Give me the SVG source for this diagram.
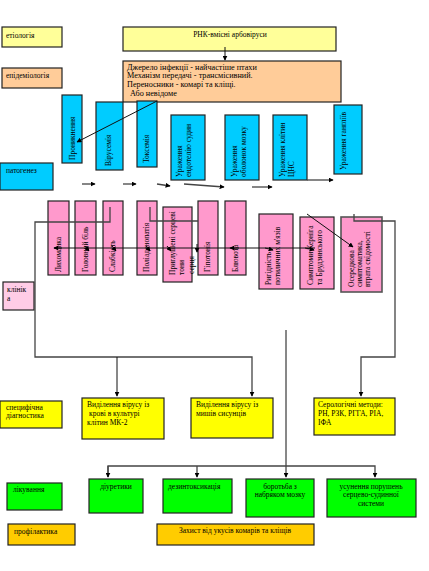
<svg xmlns="http://www.w3.org/2000/svg" width="429" height="571" viewBox="0 0 429 571">
<style>
text{font-family:"Liberation Serif","Times New Roman",serif;font-size:7.5px;fill:#000}
.pt{font-size:8.2px}
.b{stroke:#222;stroke-width:1.2}
.y1{fill:#FFFF99}.pe{fill:#FFCC99}.cy{fill:#00CCFF}.pk{fill:#FF99CC}.lp{fill:#FFCCE6}.ye{fill:#FFFF00}.gr{fill:#00FF00}.or{fill:#FFCC00}
.c{fill:none;stroke:#111;stroke-width:1}
.g{fill:none;stroke:#444;stroke-width:1.3}
.m{text-anchor:middle}
</style>
<defs>
<marker id="a" viewBox="0 0 8 8" refX="7" refY="4" markerWidth="5" markerHeight="5" orient="auto" markerUnits="userSpaceOnUse"><path d="M0,0 L8,4 L0,8 z" fill="#000"/></marker>
</defs>
<rect width="429" height="571" fill="#fff"/>

<g id="etiology"><rect class="b y1" x="2" y="27" width="60" height="20"/><text x="6" y="38">етіологія</text></g>
<g id="epidemiology"><rect class="b pe" x="2" y="68" width="60" height="20"/><text x="6" y="78">епідеміологія</text></g>
<g id="pathogenesis"><rect class="b cy" x="0" y="163" width="53" height="27"/><text x="6" y="173">патогенез</text></g>
<g id="clinic"><rect class="b lp" x="3" y="282" width="31" height="28"/><text x="7" y="292">клінік</text><text x="7" y="301">а</text></g>
<g id="specdiag"><rect class="b ye" x="0" y="401" width="62" height="27"/><text x="6" y="410">специфічна</text><text x="6" y="418">діагностика</text></g>
<g id="treatment"><rect class="b gr" x="7" y="483" width="55" height="27"/><text x="13" y="492">лікування</text></g>
<g id="prophylaxis"><rect class="b or" x="8" y="524" width="67" height="21"/><text x="14" y="534">профілактика</text></g>

<g id="virus"><rect class="b y1" x="123" y="27" width="213" height="24"/><text class="m" x="230" y="37">РНК-вмісні арбовіруси</text></g>
<g id="epidtext"><rect class="b pe" x="123" y="61" width="218" height="41"/>
<text class="pt" x="127" y="70">Джерело інфекції - найчастіше птахи</text>
<text class="pt" x="127" y="78">Механізм передачі - трансмісивний.</text>
<text class="pt" x="127" y="87">Переносники - комарі та кліщі.</text>
<text class="pt" x="130" y="96">Або невідоме</text></g>

<g id="p1"><rect class="b cy" x="62" y="95" width="20" height="68"/><text transform="translate(75,160) rotate(-90)">Проникнення</text></g>
<g id="p2"><rect class="b cy" x="96" y="102" width="27" height="68"/><text transform="translate(111,166) rotate(-90)">Вірусемія</text></g>
<g id="p3"><rect class="b cy" x="137" y="101" width="20" height="66"/><text transform="translate(149,163) rotate(-90)">Токсемія</text></g>
<g id="p4"><rect class="b cy" x="171" y="115" width="34" height="65"/><text transform="translate(182,177) rotate(-90)">Ураження</text><text transform="translate(191,177) rotate(-90)">ендотелію судин</text></g>
<g id="p5"><rect class="b cy" x="225" y="115" width="34" height="65"/><text transform="translate(237,177) rotate(-90)">Ураження</text><text transform="translate(246,177) rotate(-90)">оболонок мозку</text></g>
<g id="p6"><rect class="b cy" x="273" y="115" width="34" height="65"/><text transform="translate(285,177) rotate(-90)">Ураження клітин</text><text transform="translate(294,177) rotate(-90)">ЦНС</text></g>
<g id="p7"><rect class="b cy" x="334" y="105" width="28" height="69"/><text transform="translate(346,170) rotate(-90)">Ураження гангліїв</text></g>

<g id="k1"><rect class="b pk" x="48" y="201" width="21" height="74"/><text transform="translate(61,272) rotate(-90)">Лихоманка</text></g>
<g id="k2"><rect class="b pk" x="75" y="201" width="21" height="74"/><text transform="translate(88,272) rotate(-90)">Головний біль</text></g>
<g id="k3"><rect class="b pk" x="103" y="201" width="20" height="74"/><text transform="translate(115,272) rotate(-90)">Слабкість</text></g>
<g id="k4"><rect class="b pk" x="137" y="201" width="20" height="74"/><text transform="translate(149,272) rotate(-90)">Поліаденопатія</text></g>
<g id="k5"><rect class="b pk" x="163" y="207" width="29" height="75"/><text transform="translate(175,275) rotate(-90)">Приглушені серцеві</text><text transform="translate(184,275) rotate(-90)">тони</text><text transform="translate(194,274) rotate(-90)">серця</text></g>
<g id="k6"><rect class="b pk" x="198" y="201" width="20" height="74"/><text transform="translate(210,272) rotate(-90)">Гіпотонія</text></g>
<g id="k7"><rect class="b pk" x="225" y="201" width="21" height="74"/><text transform="translate(238,272) rotate(-90)">Блювота</text></g>
<g id="k8"><rect class="b pk" x="259" y="214" width="34" height="75"/><text transform="translate(271,285) rotate(-90)">Ригідність</text><text transform="translate(280,285) rotate(-90)">потиличних м'язів</text></g>
<g id="k9"><rect class="b pk" x="300" y="217" width="34" height="72"/><text transform="translate(313,285) rotate(-90)">Симптоми Керніга</text><text transform="translate(322,285) rotate(-90)">та Брудзинського</text></g>
<g id="k10"><rect class="b pk" x="341" y="217" width="41" height="75" style="stroke:#555;stroke-width:1.6"/><text transform="translate(354,287) rotate(-90)">Осередкова</text><text transform="translate(362,287) rotate(-90)">симптоматика,</text><text transform="translate(370,287) rotate(-90)">втрата свідомості</text></g>

<g id="d1"><rect class="b ye" x="82" y="398" width="82" height="41"/><text x="87" y="407">Виділення вірусу із</text><text x="89" y="416">крові в культурі</text><text x="87" y="425">клітин МК-2</text></g>
<g id="d2"><rect class="b ye" x="191" y="398" width="82" height="40"/><text x="196" y="407">Виділення вірусу із</text><text x="196" y="416">мишів сисунців</text></g>
<g id="d3"><rect class="b ye" x="314" y="398" width="81" height="37"/><text x="318" y="407">Серологічні методи:</text><text x="318" y="416">РН, РЗК, РГГА, РІА,</text><text x="318" y="425">ІФА</text></g>

<g id="t1"><rect class="b gr" x="89" y="479" width="54" height="34"/><text class="m" x="116" y="489">діуретики</text></g>
<g id="t2"><rect class="b gr" x="163" y="479" width="69" height="34"/><text x="168" y="489">дезинтоксикація</text></g>
<g id="t3"><rect class="b gr" x="246" y="479" width="68" height="38"/><text class="m" x="280" y="489">боротьба з</text><text class="m" x="280" y="497">набряком мозку</text></g>
<g id="t4"><rect class="b gr" x="327" y="479" width="89" height="38"/><text class="m" x="371" y="489">усунення порушень</text><text class="m" x="371" y="497">серцево-судинної</text><text class="m" x="371" y="506">системи</text></g>
<g id="pr1"><rect class="b or" x="157" y="524" width="157" height="21"/><text x="179" y="533">Захист від укусів комарів та кліщів</text></g>

<g id="connectors">
<path class="c" d="M225,47 V60" marker-end="url(#a)"/>
<path class="c" d="M157,101 L77,142" marker-end="url(#a)"/>
<path class="g" d="M82,184 H95" marker-end="url(#a)"/>
<path class="g" d="M123,184 H136" marker-end="url(#a)"/>
<path class="g" d="M157,184 L170,186" marker-end="url(#a)"/>
<path class="g" d="M184,184 L224,187" marker-end="url(#a)"/>
<path class="g" d="M252,187 H272" marker-end="url(#a)"/>
<path class="g" d="M307,180 H333" marker-end="url(#a)"/>
<path class="c" d="M54,248 H315"/>
<path class="c" d="M62,248 L54,248" marker-end="url(#a)"/>
<path class="c" d="M85,246 L89,251" marker-end="url(#a)"/>
<path class="c" d="M112,246 L116,251" marker-end="url(#a)"/>
<path class="c" d="M146,246 L150,251" marker-end="url(#a)"/>
<path class="c" d="M167,246 L171,251" marker-end="url(#a)"/>
<path class="c" d="M197,244 V252" marker-end="url(#a)"/>
<path class="c" d="M239,248 L230,248" marker-end="url(#a)"/>
<path class="c" d="M265,248 L273,250" marker-end="url(#a)"/>
<path class="c" d="M305,248 L314,250" marker-end="url(#a)"/>
<path class="c" d="M307,214 L353,247" marker-end="url(#a)"/>
<path class="g" d="M110,207 V222 H35 V357 H252 V396" marker-end="url(#a)"/>
<path class="c" d="M117,357 V396" marker-end="url(#a)"/>
<path class="g" d="M150,207 V221 H198"/>
<path class="g" d="M354,214 V221 H395 V357 H361 V396" marker-end="url(#a)"/>
<path class="c" d="M286,330 V477" marker-end="url(#a)"/>
<path class="g" d="M108,477 V466 H375 V477" marker-end="url(#a)"/>
<path class="g" d="M108,466 V477" marker-end="url(#a)"/>
<path class="g" d="M197,466 V477" marker-end="url(#a)"/>
</g>
</svg>
